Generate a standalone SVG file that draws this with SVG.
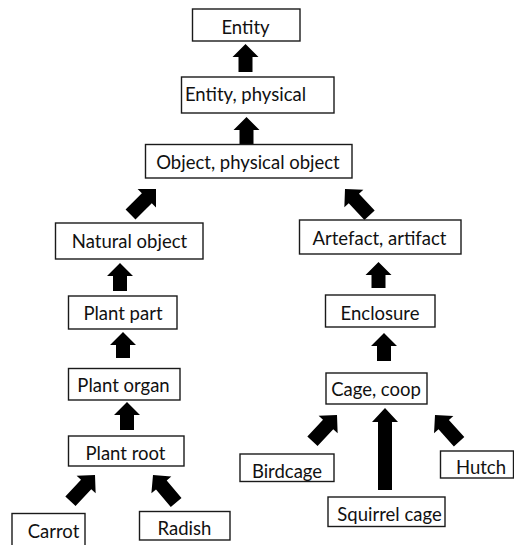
<svg xmlns="http://www.w3.org/2000/svg" width="514" height="545" viewBox="0 0 514 545">
  <style>
    .box { fill: #ffffff; stroke: #1a1a1a; stroke-width: 1.4; }
    .lbl { font-family: Lato, "Liberation Sans", sans-serif; font-size: 18.5px; fill: #111111; text-anchor: middle; }
    .arr { fill: #000000; stroke: none; }
  </style>
  <defs>
    <!-- block arrows, tip at origin, pointing up -->
    <path id="a26" d="M0 0 L13 13 H7 V26 H-7 V13 H-13 Z"/>
    <path id="a28" d="M0 0 L13 13 H7 V28 H-7 V13 H-13 Z"/>
    <path id="a36" d="M0 0 L13 13 H7 V36 H-7 V13 H-13 Z"/>
    <path id="a82" d="M0 0 L13 14 H7 V82 H-7 V14 H-13 Z"/>
  </defs>
  <rect width="514" height="545" fill="#ffffff"/>

  <g id="connectors" class="arr">
    <use href="#a28" transform="translate(245.5,44)"/>
    <use href="#a28" transform="translate(246.5,117)"/>
    <use href="#a36" transform="translate(156,189) rotate(45)"/>
    <use href="#a36" transform="translate(345,189) rotate(-43)"/>
    <use href="#a28" transform="translate(120,263)"/>
    <use href="#a26" transform="translate(123,332)"/>
    <use href="#a28" transform="translate(127,402)"/>
    <use href="#a36" transform="translate(95,475) rotate(43)"/>
    <use href="#a36" transform="translate(153,475) rotate(-40)"/>
    <use href="#a26" transform="translate(378.5,262)"/>
    <use href="#a28" transform="translate(384,333)"/>
    <use href="#a82" transform="translate(385,408)"/>
    <use href="#a36" transform="translate(337,415) rotate(43)"/>
    <use href="#a36" transform="translate(435,415) rotate(-42)"/>
  </g>

  <g id="entity">
    <rect class="box" x="192.5" y="9" width="107.5" height="32"/>
    <text class="lbl" x="245.5" y="33.5">Entity</text>
  </g>
  <g id="entity-physical">
    <rect class="box" x="181.5" y="77" width="152.5" height="36"/>
    <text class="lbl" x="245.5" y="101">Entity, physical</text>
  </g>
  <g id="object-physical">
    <rect class="box" x="145.5" y="144.5" width="206.5" height="33.5"/>
    <text class="lbl" x="248" y="168.5">Object, physical object</text>
  </g>
  <g id="natural-object">
    <rect class="box" x="55.5" y="223" width="147.5" height="36"/>
    <text class="lbl" x="129.5" y="248">Natural object</text>
  </g>
  <g id="plant-part">
    <rect class="box" x="68.5" y="296" width="108.5" height="33"/>
    <text class="lbl" x="123" y="320">Plant part</text>
  </g>
  <g id="plant-organ">
    <rect class="box" x="68.5" y="368.5" width="111.5" height="31.5"/>
    <text class="lbl" x="123.5" y="391.5">Plant organ</text>
  </g>
  <g id="plant-root">
    <rect class="box" x="68.5" y="436" width="115.5" height="30"/>
    <text class="lbl" x="125.5" y="460">Plant root</text>
  </g>
  <g id="carrot">
    <rect class="box" x="12" y="513.5" width="73" height="34"/>
    <text class="lbl" x="53.5" y="538">Carrot</text>
  </g>
  <g id="radish">
    <rect class="box" x="139.5" y="511.5" width="90.5" height="28.5"/>
    <text class="lbl" x="184.5" y="535">Radish</text>
  </g>
  <g id="artefact">
    <rect class="box" x="299.5" y="220" width="161.5" height="34"/>
    <text class="lbl" x="379.5" y="245">Artefact, artifact</text>
  </g>
  <g id="enclosure">
    <rect class="box" x="325.5" y="295" width="109.5" height="32"/>
    <text class="lbl" x="380" y="320">Enclosure</text>
  </g>
  <g id="cage-coop">
    <rect class="box" x="326" y="373" width="101" height="31"/>
    <text class="lbl" x="376" y="396">Cage, coop</text>
  </g>
  <g id="birdcage">
    <rect class="box" x="240" y="454" width="94" height="27.5"/>
    <text class="lbl" x="287" y="478">Birdcage</text>
  </g>
  <g id="squirrel-cage">
    <rect class="box" x="328" y="497" width="117" height="29.5"/>
    <text class="lbl" x="389.5" y="520.5">Squirrel cage</text>
  </g>
  <g id="hutch">
    <rect class="box" x="440.5" y="451" width="73" height="27"/>
    <text class="lbl" x="481" y="474">Hutch</text>
  </g>
</svg>
